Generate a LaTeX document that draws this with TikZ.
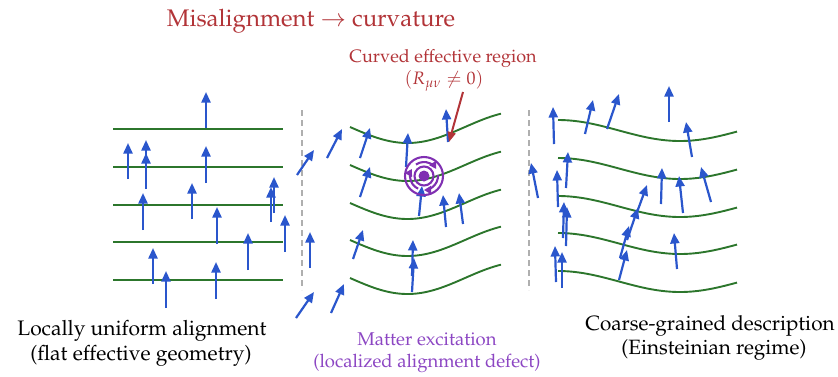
\documentclass[tikz,border=0pt]{standalone}
\usepackage[T1]{fontenc}
\usepackage{mathpazo}
\usetikzlibrary{arrows.meta}
\definecolor{spinblue}{RGB}{42,86,204}
\definecolor{fieldgreen}{RGB}{44,118,44}
\definecolor{curvred}{RGB}{178,52,56}
\definecolor{defpurple}{RGB}{128,48,178}
\definecolor{txtpurple}{RGB}{140,70,195}
\definecolor{sepgray}{RGB}{175,175,175}
\tikzset{
  spin/.style={draw=spinblue, line width=2.2pt, -{Triangle[length=10.5pt,width=9pt]}},
  fieldline/.style={draw=fieldgreen, line width=1.9pt},
  separator/.style={draw=sepgray, line width=1.1pt, dash pattern=on 6pt off 4pt},
  ring/.style={draw=defpurple, line width=2.1pt},
  lbl/.style={inner sep=0pt, anchor=center},
}
\newcommand\sv[4]{\draw[spin] (#1,#2) -- (#3,#4);}
\begin{document}
\begin{tikzpicture}[x=1pt,y=-1pt]
\useasboundingbox (0,0) rectangle (838,376);
% separators
\draw[separator] (302,110) -- (302,290);
\draw[separator] (529,110) -- (529,290);
% left flat lines
\foreach \y in {129,167,205,242,280} \draw[fieldline] (113,\y) -- (283,\y);
% middle curved lines
\foreach \y in {127,165,203,240,278}
  \draw[fieldline] plot[domain=0:151, samples=60, variable=\t] ({350+\t}, {\y + 16*sin(1.5652*\t)});
% right gently curved lines
\foreach \y in {120,158,196,233,271}
  \draw[fieldline] plot[domain=0:179, samples=60, variable=\t] ({558+\t}, {\y + 10.5*(1-cos(1.4754*\t))});
% left spins
\sv{206}{128}{206}{92}
\sv{128}{179}{128}{143}
\sv{146}{177}{146}{140}
\sv{146}{189}{146}{153}
\sv{206}{183}{206}{146}
\sv{143}{230}{143}{193}
\sv{192}{219}{192}{183}
\sv{271}{222}{271}{187}
\sv{274}{213}{274}{177}
\sv{217}{244}{217}{207}
\sv{285}{252}{285}{215}
\sv{248}{270}{248}{233}
\sv{153}{284}{153}{248}
\sv{166}{308}{166}{271}
\sv{216}{299}{216}{262}
% middle spins
\sv{297}{175}{314}{150}
\sv{327}{158}{342}{129}
\sv{360}{158}{370}{128}
\sv{360}{197}{370}{167}
\sv{406}{167}{408}{133}
\sv{448}{142}{446}{109}
\sv{419}{216}{422}{186}
\sv{446}{227}{443}{195}
\sv{463}{224}{459}{193}
\sv{310}{268}{310}{232}
\sv{296}{318}{314}{292}
\sv{331}{313}{344}{284}
\sv{353}{259}{363}{230}
\sv{412}{292}{414}{258}
\sv{412}{276}{413}{240}
% right spins
\sv{538}{198}{531}{163}
\sv{554}{144}{553}{107}
\sv{585}{134}{593}{100}
\sv{607}{129}{619}{94}
\sv{669}{122}{669}{86}
\sv{692}{157}{686}{122}
\sv{566}{188}{568}{152}
\sv{558}{207}{557}{170}
\sv{661}{204}{662}{168}
\sv{683}{213}{679}{176}
\sv{711}{202}{701}{167}
\sv{563}{238}{564}{202}
\sv{566}{246}{567}{207}
\sv{636}{215}{647}{185}
\sv{627}{240}{638}{208}
\sv{620}{258}{629}{226}
\sv{619}{280}{627}{250}
\sv{677}{269}{674}{233}
\sv{556}{282}{555}{246}
\sv{562}{288}{562}{252}
% defect
\coordinate (def) at (424,176);
\draw[ring] (def) circle[radius=19];
\draw[ring] (def) circle[radius=9.5];
\foreach \a in {90,210,330}
  \draw[ring, -{Triangle[length=7pt,width=8pt]}] (def) ++(\a-95:14) arc[start angle=\a-95, end angle=\a, radius=14];
\fill[defpurple] (def) circle[radius=5.5];
% titles
\node[lbl, text=curvred, font=\fontsize{24}{27}\selectfont] (title) at (311,21) {Misalignment $\rightarrow$ curvature};
\node[lbl, text=curvred, font=\fontsize{18}{20}\selectfont] (curv1) at (443,59) {Curved effective region};
\node[lbl, text=curvred, font=\fontsize{18}{20}\selectfont] (curv2) at (444,81) {$(R_{\mu\nu}\neq 0)$};
\coordinate (redtip) at (449,142);
\draw[curvred, line width=2pt, -{Triangle[length=10pt,width=8pt]}] (463,92) -- (redtip);
% bottom labels
\node[lbl, font=\fontsize{21}{23}\selectfont] (l1) at (142,331) {Locally uniform alignment};
\node[lbl, font=\fontsize{21}{23}\selectfont] (l2) at (141,356) {(flat effective geometry)};
\node[lbl, text=txtpurple, font=\fontsize{18.5}{20}\selectfont] (m1) at (427,339) {Matter excitation};
\node[lbl, text=txtpurple, font=\fontsize{18.5}{20}\selectfont] (m2) at (427,363) {(localized alignment defect)};
\node[lbl, font=\fontsize{20.7}{23}\selectfont] (r1) at (710,326) {Coarse-grained description};
\node[lbl, font=\fontsize{20.7}{23}\selectfont] (r2) at (714,350) {(Einsteinian regime)};
\end{tikzpicture}
\end{document}
